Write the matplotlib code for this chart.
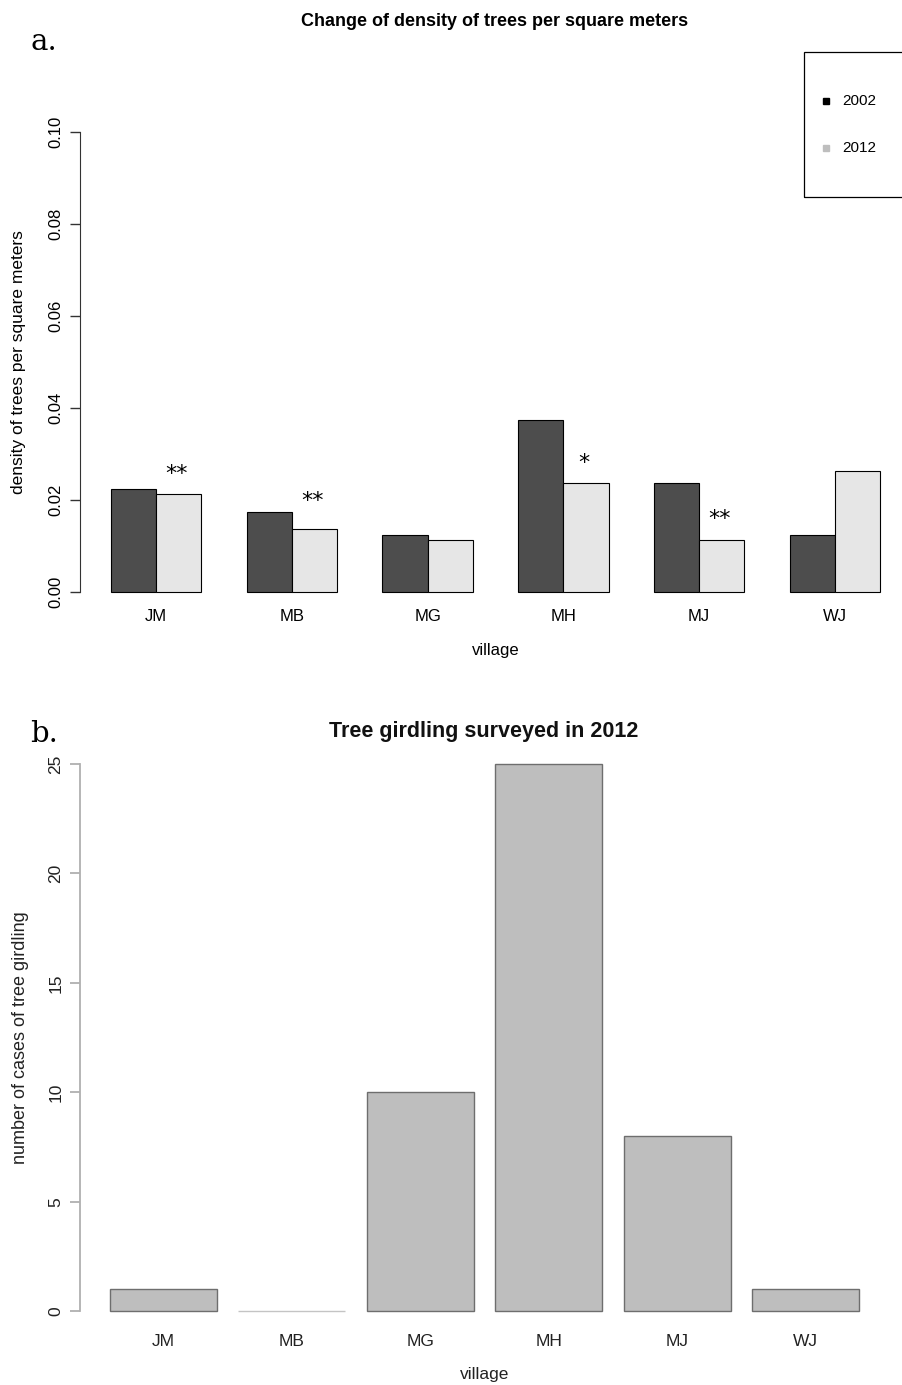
import matplotlib
matplotlib.use("Agg")
import matplotlib.pyplot as plt
from matplotlib.lines import Line2D
from matplotlib.patches import Rectangle
import numpy as np

# data
villages = ["JM", "MB", "MG", "MH", "MJ", "WJ"]
years = ["2002", "2012"]
density_2002 = [0.0225, 0.0175, 0.0125, 0.0375, 0.0237, 0.0125]
density_2012 = [0.0212, 0.0137, 0.0112, 0.0237, 0.0112, 0.0263]
signif_marks = ["**", "**", "", "*", "**", ""]
signif_y = [0.0256, 0.0198, None, 0.0280, 0.0158, None]
density_ticks = [0.00, 0.02, 0.04, 0.06, 0.08, 0.10]

girdling_cases = [1, 0, 10, 25, 8, 1]
girdling_ticks = [0, 5, 10, 15, 20, 25]

W, H = 903, 1385
SANS = ["Liberation Sans", "DejaVu Sans"]
plt.rcParams["font.family"] = SANS


def box(x0, y0, x1, y1):
    # pixel box (top-left origin) -> figure fraction rect
    return [x0 / W, 1 - y1 / H, (x1 - x0) / W, (y1 - y0) / H]


fig = plt.figure(figsize=(W / 100, H / 100), dpi=100)

# ---------------- panel a ----------------
ax1 = fig.add_axes(box(80, 113.6, 911, 610.4))
n = len(villages)
left = 1 + 3 * np.arange(n)
ax1.bar(left + 0.5, density_2002, width=1.0, color="#4d4d4d",
        edgecolor="black", linewidth=0.8)
ax1.bar(left + 1.5, density_2012, width=1.0, color="#e6e6e6",
        edgecolor="black", linewidth=0.8)
for i, (m, y) in enumerate(zip(signif_marks, signif_y)):
    if m:
        ax1.text(left[i] + 1.45, y, m, ha="center", va="center",
                 fontsize=16, family="DejaVu Sans")

ax1.set_xlim(0.32, 18.68)
ax1.set_ylim(-0.004, 0.104)
ax1.set_xticks(left + 1)
ax1.set_xticklabels(villages)
ax1.set_yticks(density_ticks)
ax1.set_yticklabels([f"{v:.2f}" for v in density_ticks])
for s in ["top", "right", "bottom"]:
    ax1.spines[s].set_visible(False)
ax1.spines["left"].set_bounds(0, 0.10)
ax1.spines["left"].set_color("#333333")
ax1.tick_params(axis="x", length=0, pad=-1, labelsize=12)
ax1.tick_params(axis="y", length=7, width=1, color="#333333",
                labelsize=12, pad=5, labelrotation=90)
for lab in ax1.get_yticklabels():
    lab.set_va("center")
ax1.set_xlabel("village", fontsize=12, labelpad=14)
ax1.set_ylabel("density of trees per square meters", fontsize=12.5,
               labelpad=16)
fig.text(495 / W, 1 - 21 / H, "Change of density of trees per square meters",
         ha="center", va="center", fontsize=13, fontweight="bold")
fig.text(30 / W, 1 - 42 / H, "a.", ha="left", va="center",
         fontsize=21, family="DejaVu Serif")

# legend box (drawn by hand, runs off the right edge like the original)
fig.patches.append(Rectangle((804 / W, 1 - 197 / H), 140 / W, 145 / H,
                             transform=fig.transFigure, fill=False,
                             edgecolor="black", linewidth=0.9))
leg_cols = ["black", "#bebebe"]
for k, (yr, c) in enumerate(zip(years, leg_cols)):
    yy = 1 - (101 + 47 * k) / H
    fig.add_artist(Line2D([826 / W], [yy], marker="s", markersize=4.5,
                          color=c, transform=fig.transFigure))
    fig.text(842 / W, yy, yr, ha="left", va="center", fontsize=11)

# ---------------- panel b ----------------
ax2 = fig.add_axes(box(80, 742, 889, 1333))
pos = 0.2 + 1.2 * np.arange(n) + 0.5
edge = ["#6e6e6e" if v > 0 else "#c4c4c4" for v in girdling_cases]
ax2.bar(pos, girdling_cases, width=1.0, color="#bebebe",
        edgecolor=edge, linewidth=1.0)
ax2.set_xlim(-0.08, 7.48)
ax2.set_ylim(-1, 26)
ax2.set_xticks(pos)
ax2.set_xticklabels(villages)
ax2.set_yticks(girdling_ticks)
for s in ["top", "right", "bottom"]:
    ax2.spines[s].set_visible(False)
ax2.spines["left"].set_bounds(0, 25)
ax2.spines["left"].set_color("#b0b0b0")
ax2.spines["left"].set_linewidth(1.3)
ax2.tick_params(axis="x", length=0, pad=1, labelsize=12.5,
                labelcolor="#222222")
ax2.tick_params(axis="y", length=7, width=1.3, color="#b0b0b0",
                labelsize=12.5, pad=5, labelrotation=90,
                labelcolor="#222222")
for lab in ax2.get_yticklabels():
    lab.set_va("center")
ax2.set_xlabel("village", fontsize=12.5, labelpad=13, color="#222222")
ax2.set_ylabel("number of cases of tree girdling", fontsize=13,
               labelpad=14, color="#222222")
fig.text(484 / W, 1 - 732 / H, "Tree girdling surveyed in 2012",
         ha="center", va="center", fontsize=15.5, fontweight="bold",
         color="#111111")
fig.text(30 / W, 1 - 734 / H, "b.", ha="left", va="center",
         fontsize=21, family="DejaVu Serif")

fig.savefig("out.png", dpi=100)
